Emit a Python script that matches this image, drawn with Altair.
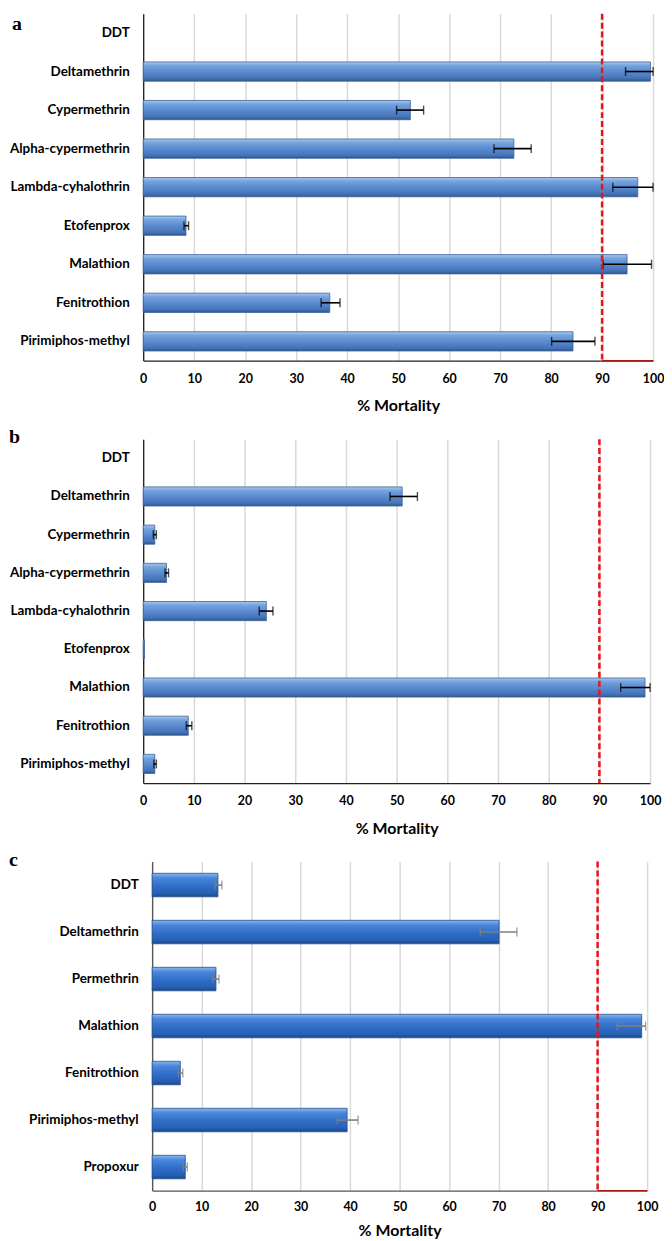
import altair as alt
import pandas as pd

# ---------------- data ----------------
cats_a = ["DDT", "Deltamethrin", "Cypermethrin", "Alpha-cypermethrin", "Lambda-cyhalothrin",
          "Etofenprox", "Malathion", "Fenitrothion", "Pirimiphos-methyl"]
mort_a = [0, 99.5, 52.4, 72.7, 97.0, 8.4, 94.9, 36.6, 84.3]
lo_a = [None, 94.6, 49.7, 68.8, 92.1, 8.0, 90.2, 34.9, 80.1]
hi_a = [None, 100.0, 55.0, 76.1, 100.0, 8.9, 99.7, 38.6, 88.6]

cats_b = ["DDT", "Deltamethrin", "Cypermethrin", "Alpha-cypermethrin", "Lambda-cyhalothrin",
          "Etofenprox", "Malathion", "Fenitrothion", "Pirimiphos-methyl"]
mort_b = [0, 51.1, 2.3, 4.6, 24.3, 0.25, 99.0, 8.9, 2.3]
lo_b = [None, 48.7, 2.0, 4.3, 22.9, None, 94.2, 8.5, 2.1]
hi_b = [None, 54.1, 2.6, 5.0, 25.6, None, 100.0, 9.6, 2.6]

cats_c = ["DDT", "Deltamethrin", "Permethrin", "Malathion", "Fenitrothion",
          "Pirimiphos-methyl", "Propoxur"]
mort_c = [13.3, 70.1, 12.9, 98.9, 5.7, 39.4, 6.7]
lo_c = [12.7, 66.3, 12.2, 93.9, 5.3, 37.4, 6.3]
hi_c = [14.1, 73.7, 13.5, 99.7, 6.2, 41.6, 7.1]

x_ticks = [0, 10, 20, 30, 40, 50, 60, 70, 80, 90, 100]
threshold = 90
x_max = 100
letters = ["a", "b", "c"]
x_title = "% Mortality"

FONT = "Lato"


def panel(letter, cats, mort, lo, hi, width, height, letter_x, letter_y,
          err_color, stops, bar_stroke, red_base, axis_color,
          label_pad, title_pad, title_size):
    df = pd.DataFrame({"cat": cats, "mort": mort, "lo": lo, "hi": hi})
    x_axis = alt.Axis(values=x_ticks, title=x_title, grid=True, gridColor="#d9d9d9",
                      gridWidth=1.5, ticks=False, domainColor=axis_color, domainWidth=1.3,
                      labelFont=FONT, labelFontWeight="bold", labelFontSize=12.5,
                      labelColor="#000", labelPadding=label_pad, labelFlush=False,
                      titleFont=FONT, titleFontWeight="bold", titleFontSize=title_size,
                      titleColor="#000", titlePadding=title_pad)
    x_scale = alt.Scale(domain=[0, x_max], nice=False)

    def xe(field):
        return alt.X(field, type="quantitative", scale=x_scale, axis=x_axis)

    y_enc = alt.Y("cat:N", sort=cats,
                  scale=alt.Scale(domain=cats, paddingInner=0.5, paddingOuter=0.25),
                  axis=alt.Axis(title=None, labelFont=FONT, labelFontWeight="bold",
                                labelFontSize=13.5, labelColor="#000", labelPadding=14,
                                ticks=False, domainColor=axis_color, domainWidth=1.3,
                                grid=False, labelLimit=300))
    base = alt.Chart(df)
    bars = base.transform_filter("datum.mort > 0").mark_bar(
        color=alt.Gradient(gradient="linear", x1=0, x2=0, y1=0, y2=1,
                           stops=[alt.GradientStop(offset=o, color=c) for o, c in stops]),
        stroke=bar_stroke, strokeWidth=0.8,
    ).encode(x=xe("mort"), y=y_enc)
    errs = base.transform_filter("isValid(datum.lo)")
    err_line = errs.mark_rule(color=err_color, strokeWidth=1.6).encode(
        x=xe("lo"), x2="hi:Q", y=y_enc)
    cap_lo = errs.mark_tick(color=err_color, size=9, thickness=1.4).encode(x=xe("lo"), y=y_enc)
    cap_hi = errs.mark_tick(color=err_color, size=9, thickness=1.4).encode(x=xe("hi"), y=y_enc)
    red = alt.Chart(pd.DataFrame({"t": [threshold]})).mark_rule(
        color="#e8141c", strokeDash=[6, 3], strokeWidth=2.5).encode(x=xe("t"))
    layers = [bars, err_line, cap_lo, cap_hi, red]
    if red_base:
        seg = alt.Chart(pd.DataFrame({"t": [threshold], "e": [x_max]})).mark_rule(
            color="#b01818", strokeWidth=1.2).encode(x=xe("t"), x2="e:Q", y=alt.value(height))
        layers.append(seg)
    lab = alt.Chart(pd.DataFrame({"L": [letter]})).mark_text(
        font="Liberation Serif", fontWeight="bold", fontSize=20, align="left",
        baseline="top", color="#000").encode(
        text="L:N", x=alt.value(letter_x), y=alt.value(letter_y))
    layers.append(lab)
    return alt.layer(*layers).properties(width=width, height=height)


def spacer():
    return alt.Chart(pd.DataFrame({"z": [0]})).mark_rule(opacity=0, strokeWidth=0.1).encode(
        x=alt.value(0), y=alt.value(0), y2=alt.value(1)).properties(width=1, height=1)


stops_ab = [(0, "#a9c8ee"), (0.2, "#74a2dc"), (0.5, "#5b8bd0"), (0.85, "#4573b6"), (1, "#2e568f")]
stops_c = [(0, "#8ab7f0"), (0.2, "#4a86da"), (0.55, "#2f6dc8"), (0.85, "#2660b4"), (1, "#1b4687")]

pa = panel(letters[0], cats_a, mort_a, lo_a, hi_a, 513, 349, -132, 0,
           "#000", stops_ab, "#3a6299", True, "#222", 12, 13, 16)
pb = panel(letters[1], cats_b, mort_b, lo_b, hi_b, 510, 346, -135, -12,
           "#000", stops_ab, "#3a6299", False, "#222", 12, 13, 16)
pc = panel(letters[2], cats_c, mort_c, lo_c, hi_c, 498, 331, -144, -12,
           "#7f7f7f", stops_c, "#244f8f", True, "#555", 10, 10, 16)

rows = [alt.hconcat(spacer(), p, spacing=0) for p in (pa, pb, pc)]
chart = alt.vconcat(*rows, spacing=13).properties(padding=0).configure_view(stroke=None)

chart.save("out.html", embed_options={"renderer": "svg", "actions": False})
